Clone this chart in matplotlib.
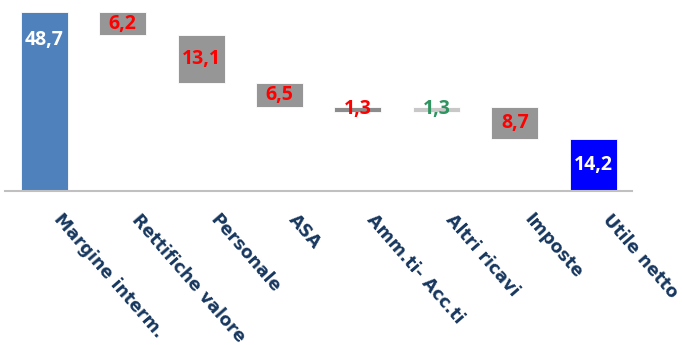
import numpy as np
import matplotlib
matplotlib.use("Agg")
import matplotlib.pyplot as plt
import matplotlib.transforms as mtransforms

categories = ["Margine interm.", "Rettifiche valore", "Personale", "ASA",
              "Amm.ti- Acc.ti", "Altri ricavi", "Imposte", "Utile netto"]
# signed steps; first and last are totals
values = [48.7, -6.2, -13.1, -6.5, -1.3, 1.3, -8.7, 14.2]
labels = ["48,7", "6,2", "13,1", "6,5", "1,3", "1,3", "8,7", "14,2"]
is_total = [True, False, False, False, False, False, False, True]

bar_colors = ["#4F81BD", "#969696", "#969696", "#969696",
              "#8C8C8C", "#C8C8C8", "#969696", "#0000FF"]
label_colors = ["white", "#FF0000", "#FF0000", "#FF0000",
                "#FF0000", "#2E9460", "#FF0000", "white"]

# compute bottoms / heights for the waterfall
bottoms, heights = [], []
level = 0.0
for v, tot in zip(values, is_total):
    if tot:
        bottoms.append(0.0)
        heights.append(v)
        level = v
    else:
        new = level + v
        bottoms.append(min(level, new))
        heights.append(abs(v))
        level = new

fig = plt.figure(figsize=(6.82, 3.45), dpi=100)
ax = fig.add_axes((0.0073, 0.4464, 0.92, 0.5536))

x = np.arange(len(categories))
ax.bar(x, heights, bottom=bottoms, width=0.6, color=bar_colors,
       edgecolor="white", linewidth=0.6)

lab_font = dict(fontsize=14, fontweight="bold", family="Open Sans")
for i in range(len(categories)):
    b, h = bottoms[i], heights[i]
    if i == 0:
        ax.annotate(labels[i], (x[i], b + h), xytext=(0, -13),
                    textcoords="offset points", ha="center", va="top",
                    color=label_colors[i], **lab_font)
    else:
        ax.text(x[i], b + h / 2, labels[i], ha="center", va="center",
                color=label_colors[i], **lab_font)

ax.set_xlim(-0.5, len(categories) - 0.5)
ax.set_ylim(0, 52)
ax.set_yticks([])
ax.set_xticks(x)
ax.set_xticklabels(categories, rotation=-49, rotation_mode="anchor",
                   ha="left", va="top", color="#17375E", fontsize=12.5,
                   fontweight="bold", family="DejaVu Sans")
ax.tick_params(axis="x", length=0, pad=14)
shift = mtransforms.ScaledTranslation(0.19, 0, fig.dpi_scale_trans)
for t in ax.get_xticklabels():
    t.set_transform(t.get_transform() + shift)
for s in ["top", "left", "right"]:
    ax.spines[s].set_visible(False)
ax.spines["bottom"].set_color("#C0C0C0")
ax.spines["bottom"].set_linewidth(1.5)

fig.savefig("out.png", dpi=100)
